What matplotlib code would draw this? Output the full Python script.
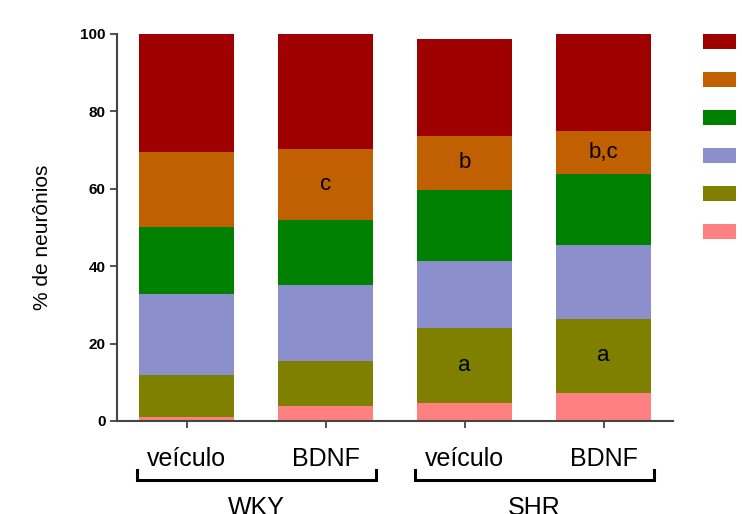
import numpy as np
import matplotlib
matplotlib.use("Agg")
import matplotlib.pyplot as plt
from matplotlib.patches import Patch

plt.rcParams["font.family"] = ["Liberation Sans", "DejaVu Sans"]

# ==========================
# Data (% of neurons per class, bottom to top)
# ==========================
bar_labels = ["veículo", "BDNF", "veículo", "BDNF"]
groups = ["WKY", "SHR"]

pink = [0.9, 3.9, 4.6, 7.3]
olive = [11.0, 11.6, 19.3, 19.0]
blue = [20.9, 19.6, 17.4, 19.1]
green = [17.2, 16.8, 18.5, 18.4]
orange = [19.4, 18.3, 13.9, 11.1]
red = [30.6, 29.8, 24.9, 25.1]

# significance letters: (bar index, segment index, text)
letters = [(1, 4, "c"), (2, 4, "b"), (3, 4, "b,c"), (2, 1, "a"), (3, 1, "a")]

segments = [pink, olive, blue, green, orange, red]
colors = ["#FF8080", "#808000", "#8B8FCC", "#008000", "#C06000", "#9E0000"]

# ==========================
# Plot
# ==========================
fig = plt.figure(figsize=(7.42, 5.14), dpi=100)
ax = fig.add_axes([0.158, 0.181, 0.749, 0.753])

x = np.arange(len(bar_labels))
bottom = np.zeros(len(bar_labels))
bottoms = []
for vals, col in zip(segments, colors):
    vals = np.array(vals)
    ax.bar(x, vals, width=0.68, bottom=bottom, color=col, edgecolor="none")
    bottoms.append(bottom.copy())
    bottom = bottom + vals

for bi, si, txt in letters:
    yc = bottoms[si][bi] + segments[si][bi] / 2
    ax.text(x[bi], yc, txt, ha="center", va="center", fontsize=16, color="black")

ax.set_xlim(-0.5, 3.5)
ax.set_ylim(0, 100)
ax.set_yticks([0, 20, 40, 60, 80, 100])
ax.set_xticks(x)
ax.set_xticklabels([])
for lab in ax.get_yticklabels():
    lab.set_fontweight("bold")
    lab.set_fontsize(11)
ax.tick_params(axis="both", direction="out", length=5, width=1.3, color="#444444")
ax.spines["top"].set_visible(False)
ax.spines["right"].set_visible(False)
ax.spines["left"].set_color("#444444")
ax.spines["bottom"].set_color("#444444")
ax.spines["left"].set_linewidth(1.5)
ax.spines["bottom"].set_linewidth(1.5)

ax.set_ylabel("% de neurônios", fontsize=15)
ax.yaxis.set_label_coords(-0.117, 0.475)

# category labels and group brackets below the axis
trans = ax.get_xaxis_transform()
for xi, lab in zip(x, bar_labels):
    ax.text(xi, -0.098, lab, transform=trans, ha="center", va="center", fontsize=18)

for gi, g in enumerate(groups):
    x0 = x[2 * gi] - 0.36
    x1 = x[2 * gi + 1] + 0.36
    ax.plot([x0, x0, x1, x1], [-0.127, -0.152, -0.152, -0.127], transform=trans,
            color="black", lw=2.2, clip_on=False, solid_joinstyle="miter")
    ax.text((x[2 * gi] + x[2 * gi + 1]) / 2, -0.225, g, transform=trans,
            ha="center", va="center", fontsize=18)

# legend (colour keys only)
handles = [Patch(facecolor=c, edgecolor="none") for c in colors[::-1]]
fig.legend(handles, [""] * len(handles), loc="upper left",
           bbox_to_anchor=(0.948, 0.934), frameon=False, fontsize=14,
           handlelength=1.7, handleheight=0.8, labelspacing=1.02,
           borderpad=0, borderaxespad=0, handletextpad=0.2)

fig.savefig("out.png", dpi=100)
